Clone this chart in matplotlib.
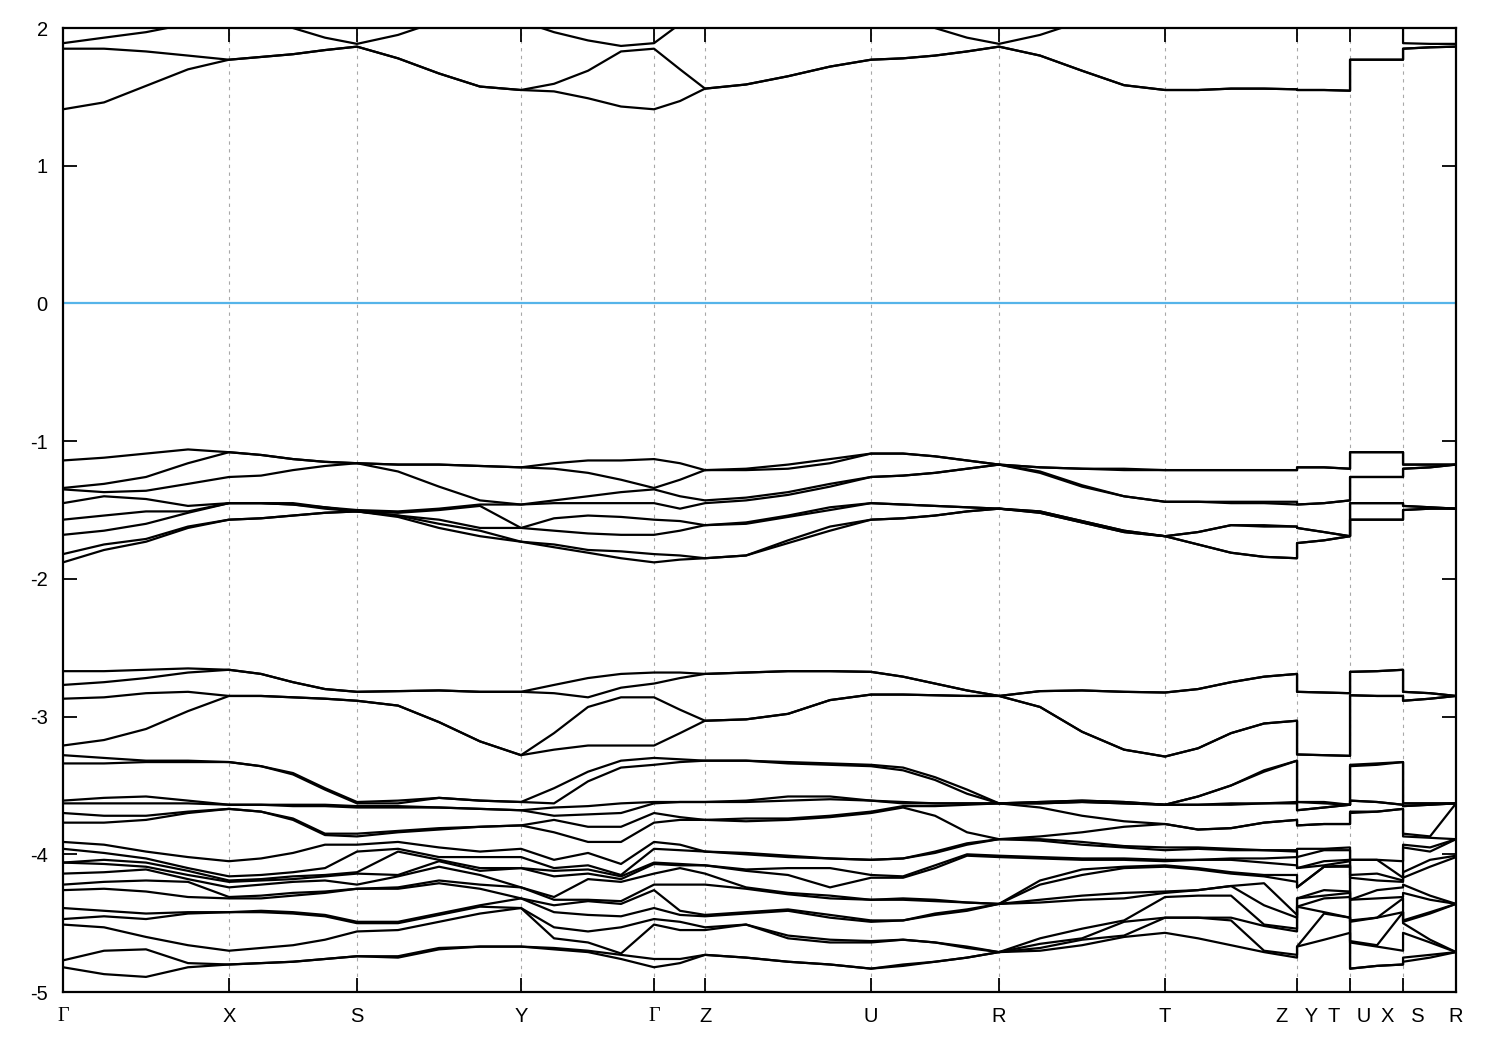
import numpy as np
import matplotlib
matplotlib.use("Agg")
import matplotlib.pyplot as plt

plt.rcParams['font.family'] = ['Liberation Sans', 'DejaVu Sans']
plt.rcParams['axes.unicode_minus'] = False

# high-symmetry points along the k-path
hs_pos = [0.00, 1.66, 2.94, 4.58, 5.91, 6.42, 8.08, 9.36, 11.02, 12.34, 12.87, 13.40, 13.93]
hs_labels = ['Γ', 'X', 'S', 'Y', 'Γ', 'Z', 'U', 'R', 'T', 'Z   Y', 'T   U', 'X   S', 'R']

# sampled k-path distances (repeated values = path discontinuities)
kpath = [0.00, 0.41, 0.83, 1.25, 1.66,
         1.98, 2.30, 2.62, 2.94,
         3.35, 3.76, 4.17, 4.58,
         4.91, 5.25, 5.58, 5.91,
         6.17, 6.42,
         6.83, 7.25, 7.67, 8.08,
         8.40, 8.72, 9.04, 9.36,
         9.77, 10.19, 10.61, 11.02,
         11.35, 11.68, 12.01, 12.34,
         12.34, 12.61, 12.87,
         12.87, 13.14, 13.40,
         13.40, 13.67, 13.93]

# conduction bands (eV), one row per k-point
cond_bands = [
    [1.41, 1.85, 1.89, 2.30], [1.46, 1.85, 1.93, 2.30], [1.58, 1.83, 1.97, 2.30],
    [1.70, 1.80, 2.03, 2.30], [1.77, 1.77, 2.10, 2.30],
    [1.79, 1.79, 2.08, 2.30], [1.81, 1.81, 2.00, 2.25], [1.84, 1.84, 1.93, 2.15],
    [1.865, 1.865, 1.885, 2.10],
    [1.78, 1.78, 1.95, 2.15], [1.67, 1.67, 2.05, 2.15], [1.575, 1.575, 2.10, 2.12],
    [1.55, 1.55, 2.05, 2.15],
    [1.54, 1.595, 1.97, 2.15], [1.49, 1.69, 1.91, 2.15], [1.43, 1.83, 1.87, 2.15],
    [1.41, 1.85, 1.89, 2.15],
    [1.47, 1.70, 2.03, 2.20], [1.56, 1.56, 2.15, 2.25],
    [1.59, 1.59, 2.20, 2.30], [1.65, 1.65, 2.20, 2.30], [1.72, 1.72, 2.20, 2.30],
    [1.77, 1.77, 2.20, 2.30],
    [1.78, 1.78, 2.10, 2.30], [1.80, 1.80, 2.00, 2.30], [1.83, 1.83, 1.93, 2.20],
    [1.865, 1.865, 1.885, 2.10],
    [1.80, 1.80, 1.95, 2.15], [1.69, 1.69, 2.05, 2.20], [1.585, 1.585, 2.10, 2.20],
    [1.55, 1.55, 2.10, 2.20],
    [1.55, 1.55, 2.10, 2.20], [1.56, 1.56, 2.10, 2.20], [1.56, 1.56, 2.12, 2.20],
    [1.555, 1.555, 2.15, 2.25],
    [1.55, 1.55, 2.05, 2.15], [1.55, 1.55, 2.08, 2.15], [1.545, 1.545, 2.10, 2.20],
    [1.77, 1.77, 2.10, 2.30], [1.77, 1.77, 2.10, 2.30], [1.77, 1.77, 2.10, 2.30],
    [1.85, 1.85, 1.89, 2.10], [1.86, 1.86, 1.885, 2.10], [1.865, 1.865, 1.885, 2.10],
]

# valence group around -1 to -2 eV
val_bands_a = [
    [-1.14, -1.34, -1.35, -1.45, -1.57, -1.68, -1.82, -1.88],
    [-1.12, -1.31, -1.37, -1.40, -1.54, -1.65, -1.75, -1.79],
    [-1.09, -1.26, -1.36, -1.42, -1.51, -1.60, -1.71, -1.73],
    [-1.06, -1.16, -1.31, -1.47, -1.51, -1.52, -1.62, -1.63],
    [-1.08, -1.08, -1.26, -1.45, -1.45, -1.45, -1.57, -1.57],
    [-1.10, -1.10, -1.25, -1.45, -1.45, -1.45, -1.56, -1.56],
    [-1.13, -1.13, -1.21, -1.45, -1.46, -1.46, -1.54, -1.54],
    [-1.15, -1.15, -1.18, -1.48, -1.48, -1.49, -1.52, -1.52],
    [-1.16, -1.16, -1.16, -1.50, -1.51, -1.51, -1.51, -1.51],
    [-1.17, -1.17, -1.22, -1.51, -1.52, -1.54, -1.54, -1.55],
    [-1.17, -1.17, -1.33, -1.49, -1.50, -1.57, -1.60, -1.63],
    [-1.18, -1.18, -1.43, -1.46, -1.47, -1.63, -1.65, -1.69],
    [-1.19, -1.19, -1.46, -1.46, -1.63, -1.63, -1.73, -1.73],
    [-1.16, -1.20, -1.43, -1.45, -1.56, -1.65, -1.75, -1.77],
    [-1.14, -1.23, -1.40, -1.45, -1.54, -1.67, -1.79, -1.81],
    [-1.14, -1.28, -1.37, -1.45, -1.55, -1.68, -1.80, -1.85],
    [-1.13, -1.34, -1.35, -1.45, -1.57, -1.68, -1.82, -1.88],
    [-1.16, -1.28, -1.40, -1.49, -1.58, -1.65, -1.83, -1.86],
    [-1.21, -1.21, -1.43, -1.45, -1.61, -1.61, -1.85, -1.85],
    [-1.20, -1.21, -1.41, -1.43, -1.59, -1.60, -1.83, -1.83],
    [-1.17, -1.20, -1.37, -1.39, -1.54, -1.55, -1.72, -1.74],
    [-1.13, -1.16, -1.31, -1.33, -1.48, -1.50, -1.62, -1.65],
    [-1.09, -1.09, -1.26, -1.26, -1.45, -1.45, -1.57, -1.57],
    [-1.09, -1.09, -1.25, -1.25, -1.46, -1.46, -1.56, -1.56],
    [-1.11, -1.11, -1.23, -1.23, -1.47, -1.47, -1.54, -1.54],
    [-1.14, -1.14, -1.20, -1.20, -1.48, -1.48, -1.51, -1.51],
    [-1.17, -1.17, -1.17, -1.17, -1.49, -1.49, -1.49, -1.49],
    [-1.19, -1.19, -1.22, -1.23, -1.51, -1.51, -1.52, -1.52],
    [-1.20, -1.20, -1.32, -1.33, -1.58, -1.58, -1.59, -1.59],
    [-1.20, -1.21, -1.40, -1.40, -1.65, -1.65, -1.66, -1.66],
    [-1.21, -1.21, -1.44, -1.44, -1.69, -1.69, -1.69, -1.69],
    [-1.21, -1.21, -1.44, -1.44, -1.66, -1.66, -1.75, -1.75],
    [-1.21, -1.21, -1.44, -1.45, -1.61, -1.61, -1.81, -1.81],
    [-1.21, -1.21, -1.44, -1.45, -1.61, -1.62, -1.84, -1.84],
    [-1.21, -1.21, -1.44, -1.46, -1.62, -1.62, -1.85, -1.85],
    [-1.19, -1.19, -1.46, -1.46, -1.63, -1.63, -1.74, -1.74],
    [-1.19, -1.19, -1.45, -1.45, -1.66, -1.66, -1.72, -1.72],
    [-1.20, -1.20, -1.43, -1.43, -1.69, -1.69, -1.69, -1.69],
    [-1.08, -1.08, -1.26, -1.26, -1.45, -1.45, -1.57, -1.57],
    [-1.08, -1.08, -1.26, -1.26, -1.45, -1.45, -1.57, -1.57],
    [-1.08, -1.08, -1.26, -1.26, -1.45, -1.45, -1.57, -1.57],
    [-1.17, -1.17, -1.20, -1.20, -1.47, -1.47, -1.50, -1.50],
    [-1.17, -1.17, -1.19, -1.19, -1.48, -1.48, -1.49, -1.49],
    [-1.17, -1.17, -1.17, -1.17, -1.49, -1.49, -1.49, -1.49],
]

# valence group around -2.6 to -3.3 eV
val_bands_b = [
    [-2.67, -2.77, -2.87, -3.21], [-2.67, -2.75, -2.86, -3.17], [-2.66, -2.72, -2.83, -3.09],
    [-2.65, -2.68, -2.82, -2.96], [-2.66, -2.66, -2.85, -2.85],
    [-2.69, -2.69, -2.85, -2.85], [-2.75, -2.75, -2.86, -2.86], [-2.80, -2.80, -2.87, -2.87],
    [-2.82, -2.82, -2.885, -2.885],
    [-2.815, -2.815, -2.92, -2.92], [-2.81, -2.81, -3.04, -3.04], [-2.82, -2.82, -3.18, -3.18],
    [-2.82, -2.82, -3.28, -3.28],
    [-2.77, -2.83, -3.12, -3.24], [-2.72, -2.86, -2.93, -3.21], [-2.69, -2.79, -2.86, -3.21],
    [-2.68, -2.76, -2.86, -3.21],
    [-2.68, -2.72, -2.95, -3.12], [-2.69, -2.69, -3.03, -3.03],
    [-2.68, -2.68, -3.02, -3.02], [-2.67, -2.67, -2.98, -2.98], [-2.67, -2.67, -2.88, -2.88],
    [-2.675, -2.675, -2.84, -2.84],
    [-2.71, -2.71, -2.84, -2.84], [-2.76, -2.76, -2.845, -2.845], [-2.81, -2.81, -2.85, -2.85],
    [-2.85, -2.85, -2.85, -2.85],
    [-2.815, -2.815, -2.93, -2.93], [-2.81, -2.81, -3.11, -3.11], [-2.82, -2.82, -3.24, -3.24],
    [-2.825, -2.825, -3.29, -3.29],
    [-2.80, -2.80, -3.23, -3.23], [-2.75, -2.75, -3.12, -3.12], [-2.71, -2.71, -3.05, -3.05],
    [-2.69, -2.69, -3.03, -3.03],
    [-2.82, -2.82, -3.275, -3.275], [-2.825, -2.825, -3.28, -3.28], [-2.83, -2.83, -3.285, -3.285],
    [-2.675, -2.675, -2.845, -2.845], [-2.67, -2.67, -2.85, -2.85], [-2.66, -2.66, -2.85, -2.85],
    [-2.82, -2.82, -2.885, -2.885], [-2.83, -2.83, -2.87, -2.87], [-2.85, -2.85, -2.85, -2.85],
]

# valence group around -3.3 to -4.9 eV
val_bands_c = [
    [-3.28, -3.34, -3.61, -3.63, -3.70, -3.77, -3.91, -3.96, -4.06, -4.06, -4.14, -4.22, -4.26, -4.39, -4.47, -4.51, -4.77, -4.82],
    [-3.30, -3.34, -3.59, -3.63, -3.72, -3.77, -3.93, -3.99, -4.04, -4.07, -4.13, -4.20, -4.25, -4.41, -4.45, -4.53, -4.70, -4.87],
    [-3.32, -3.33, -3.58, -3.63, -3.72, -3.75, -3.98, -4.03, -4.06, -4.09, -4.11, -4.19, -4.27, -4.43, -4.47, -4.60, -4.69, -4.89],
    [-3.32, -3.33, -3.61, -3.63, -3.69, -3.70, -4.02, -4.10, -4.12, -4.15, -4.18, -4.20, -4.31, -4.42, -4.43, -4.66, -4.79, -4.82],
    [-3.33, -3.33, -3.64, -3.64, -3.67, -3.67, -4.05, -4.16, -4.19, -4.20, -4.24, -4.31, -4.32, -4.42, -4.42, -4.70, -4.80, -4.80],
    [-3.36, -3.36, -3.64, -3.64, -3.69, -3.69, -4.03, -4.15, -4.18, -4.19, -4.22, -4.30, -4.32, -4.41, -4.42, -4.68, -4.79, -4.79],
    [-3.41, -3.42, -3.64, -3.65, -3.74, -3.75, -3.99, -4.13, -4.16, -4.18, -4.20, -4.28, -4.30, -4.42, -4.43, -4.66, -4.78, -4.78],
    [-3.52, -3.53, -3.64, -3.65, -3.85, -3.86, -3.93, -4.10, -4.15, -4.16, -4.19, -4.27, -4.28, -4.44, -4.45, -4.62, -4.76, -4.76],
    [-3.62, -3.63, -3.65, -3.66, -3.85, -3.87, -3.93, -3.98, -4.13, -4.14, -4.22, -4.25, -4.25, -4.49, -4.50, -4.56, -4.74, -4.74],
    [-3.61, -3.63, -3.65, -3.66, -3.83, -3.84, -3.91, -3.96, -3.98, -4.15, -4.16, -4.24, -4.25, -4.49, -4.50, -4.55, -4.74, -4.75],
    [-3.59, -3.59, -3.66, -3.66, -3.81, -3.82, -3.95, -4.02, -4.04, -4.05, -4.09, -4.19, -4.21, -4.43, -4.44, -4.49, -4.68, -4.69],
    [-3.61, -3.61, -3.67, -3.67, -3.80, -3.80, -3.98, -4.02, -4.10, -4.12, -4.15, -4.22, -4.25, -4.37, -4.38, -4.43, -4.67, -4.67],
    [-3.62, -3.62, -3.68, -3.68, -3.79, -3.79, -3.96, -4.02, -4.10, -4.10, -4.24, -4.24, -4.32, -4.32, -4.39, -4.39, -4.67, -4.67],
    [-3.52, -3.63, -3.66, -3.72, -3.75, -3.84, -4.04, -4.10, -4.12, -4.16, -4.31, -4.33, -4.37, -4.42, -4.53, -4.61, -4.68, -4.69],
    [-3.40, -3.47, -3.65, -3.71, -3.80, -3.91, -3.99, -4.08, -4.11, -4.14, -4.18, -4.33, -4.34, -4.44, -4.56, -4.64, -4.70, -4.71],
    [-3.32, -3.37, -3.63, -3.70, -3.80, -3.91, -4.07, -4.15, -4.16, -4.18, -4.20, -4.34, -4.36, -4.45, -4.53, -4.72, -4.73, -4.76],
    [-3.30, -3.35, -3.62, -3.63, -3.70, -3.77, -3.91, -3.96, -4.06, -4.07, -4.14, -4.22, -4.26, -4.39, -4.47, -4.51, -4.76, -4.82],
    [-3.31, -3.33, -3.62, -3.62, -3.73, -3.75, -3.93, -3.97, -4.07, -4.08, -4.10, -4.22, -4.41, -4.44, -4.49, -4.55, -4.76, -4.79],
    [-3.32, -3.32, -3.62, -3.62, -3.75, -3.75, -3.98, -3.98, -4.08, -4.08, -4.14, -4.22, -4.44, -4.45, -4.53, -4.55, -4.73, -4.73],
    [-3.32, -3.32, -3.61, -3.62, -3.74, -3.76, -3.99, -4.00, -4.11, -4.12, -4.24, -4.25, -4.42, -4.43, -4.51, -4.51, -4.75, -4.75],
    [-3.33, -3.34, -3.58, -3.61, -3.74, -3.75, -4.01, -4.02, -4.10, -4.15, -4.28, -4.29, -4.40, -4.41, -4.59, -4.61, -4.78, -4.78],
    [-3.34, -3.35, -3.58, -3.60, -3.72, -3.73, -4.03, -4.03, -4.10, -4.24, -4.30, -4.32, -4.44, -4.46, -4.62, -4.64, -4.80, -4.80],
    [-3.35, -3.36, -3.61, -3.61, -3.69, -3.70, -4.04, -4.04, -4.15, -4.17, -4.33, -4.33, -4.48, -4.49, -4.63, -4.64, -4.83, -4.83],
    [-3.37, -3.39, -3.62, -3.63, -3.65, -3.66, -4.03, -4.03, -4.16, -4.17, -4.32, -4.33, -4.48, -4.48, -4.62, -4.62, -4.80, -4.81],
    [-3.44, -3.46, -3.63, -3.63, -3.65, -3.72, -3.98, -3.99, -4.08, -4.10, -4.33, -4.34, -4.43, -4.44, -4.64, -4.64, -4.78, -4.78],
    [-3.53, -3.56, -3.63, -3.63, -3.64, -3.84, -3.92, -3.93, -4.00, -4.01, -4.35, -4.35, -4.40, -4.41, -4.67, -4.68, -4.75, -4.75],
    [-3.63, -3.63, -3.63, -3.63, -3.63, -3.89, -3.89, -3.89, -4.01, -4.02, -4.36, -4.36, -4.36, -4.36, -4.71, -4.71, -4.71, -4.71],
    [-3.62, -3.62, -3.63, -3.63, -3.66, -3.87, -3.89, -3.90, -4.02, -4.03, -4.19, -4.22, -4.33, -4.35, -4.61, -4.65, -4.68, -4.70],
    [-3.61, -3.61, -3.62, -3.62, -3.72, -3.84, -3.91, -3.93, -4.03, -4.04, -4.11, -4.15, -4.30, -4.33, -4.54, -4.61, -4.62, -4.66],
    [-3.62, -3.62, -3.63, -3.63, -3.76, -3.80, -3.94, -3.95, -4.03, -4.04, -4.09, -4.10, -4.28, -4.32, -4.48, -4.49, -4.59, -4.60],
    [-3.64, -3.64, -3.64, -3.64, -3.78, -3.78, -3.95, -3.97, -4.04, -4.05, -4.08, -4.09, -4.27, -4.28, -4.31, -4.46, -4.46, -4.57],
    [-3.58, -3.58, -3.64, -3.64, -3.82, -3.82, -3.95, -3.96, -4.04, -4.04, -4.10, -4.11, -4.26, -4.26, -4.30, -4.46, -4.46, -4.61],
    [-3.50, -3.50, -3.63, -3.64, -3.81, -3.81, -3.96, -3.97, -4.03, -4.04, -4.13, -4.14, -4.23, -4.23, -4.30, -4.46, -4.48, -4.66],
    [-3.39, -3.40, -3.63, -3.63, -3.77, -3.77, -3.97, -3.97, -4.03, -4.06, -4.15, -4.16, -4.21, -4.37, -4.51, -4.52, -4.70, -4.71],
    [-3.32, -3.32, -3.62, -3.63, -3.75, -3.75, -3.97, -3.98, -4.02, -4.08, -4.15, -4.20, -4.44, -4.46, -4.54, -4.56, -4.73, -4.75],
    [-3.62, -3.62, -3.68, -3.68, -3.79, -3.79, -3.96, -4.02, -4.10, -4.10, -4.24, -4.24, -4.32, -4.32, -4.38, -4.38, -4.67, -4.67],
    [-3.62, -3.63, -3.66, -3.66, -3.78, -3.78, -3.96, -3.97, -4.05, -4.08, -4.09, -4.09, -4.26, -4.30, -4.32, -4.42, -4.43, -4.62],
    [-3.64, -3.64, -3.64, -3.64, -3.78, -3.78, -3.95, -3.97, -4.04, -4.05, -4.08, -4.09, -4.27, -4.28, -4.31, -4.46, -4.46, -4.57],
    [-3.35, -3.36, -3.61, -3.61, -3.69, -3.70, -4.04, -4.04, -4.15, -4.17, -4.33, -4.33, -4.48, -4.49, -4.63, -4.64, -4.83, -4.83],
    [-3.34, -3.35, -3.62, -3.62, -3.69, -3.69, -4.04, -4.04, -4.14, -4.19, -4.26, -4.32, -4.46, -4.46, -4.66, -4.67, -4.81, -4.81],
    [-3.33, -3.33, -3.64, -3.64, -3.67, -3.67, -4.05, -4.17, -4.19, -4.20, -4.24, -4.31, -4.32, -4.42, -4.42, -4.70, -4.80, -4.80],
    [-3.63, -3.63, -3.65, -3.65, -3.85, -3.87, -3.93, -3.95, -4.13, -4.17, -4.22, -4.28, -4.48, -4.49, -4.50, -4.57, -4.75, -4.78],
    [-3.63, -3.63, -3.64, -3.64, -3.87, -3.88, -3.95, -3.98, -4.04, -4.09, -4.30, -4.33, -4.42, -4.43, -4.62, -4.64, -4.73, -4.75],
    [-3.63, -3.63, -3.63, -3.63, -3.63, -3.89, -3.89, -3.89, -4.01, -4.02, -4.36, -4.36, -4.36, -4.36, -4.71, -4.71, -4.71, -4.71],
]

fig = plt.figure(figsize=(15, 10.5), dpi=100)
ax = fig.add_axes([0.042, 0.0552, 0.9287, 0.9181])

for group in (cond_bands, val_bands_a, val_bands_b, val_bands_c):
    arr = np.array(group)
    for j in range(arr.shape[1]):
        ax.plot(kpath, arr[:, j], color='black', lw=1.6,
                solid_joinstyle='round', zorder=3)

ax.axhline(0, color='#56b4e9', lw=1.6, zorder=2)
for p in hs_pos[1:-1]:
    ax.axvline(p, color='#a8a8a8', lw=0.8, ls=(0, (3, 4)), zorder=1)

ax.set_xlim(hs_pos[0], hs_pos[-1])
ax.set_ylim(-5, 2)
ax.set_yticks([-5, -4, -3, -2, -1, 0, 1, 2])
ax.set_xticks(hs_pos)
ax.set_xticklabels(hs_labels)
ax.tick_params(axis='both', direction='in', length=10, width=1.3,
               labelsize=14.5, top=True, right=True, colors='black')
ax.tick_params(axis='x', pad=11)
ax.tick_params(axis='y', pad=11)
for lab in ax.get_xticklabels():
    if lab.get_text() == 'Γ':
        lab.set_fontfamily(['Liberation Serif', 'DejaVu Serif'])
for s in ax.spines.values():
    s.set_linewidth(1.6)

fig.savefig('out.png', dpi=100)
